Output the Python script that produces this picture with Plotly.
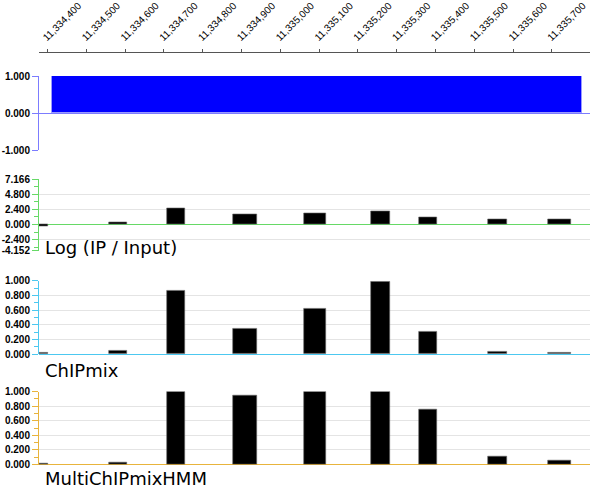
import plotly
from plotly.graph_objs import Bar, Figure, Layout

#genomic window shown on the top ruler
view_start = 11334378
view_end = 11335798
ruler_ticks = list(range(11334400, 11335800, 100))

#enriched region called by the HMM (top track)
region_start = [11334411]
region_end = [11335777]
region_value = [1.0]

#probes: start / end in bp
probe_start = [11334378, 11334558, 11334708, 11334877, 11335062, 11335234, 11335358, 11335535, 11335690]
probe_end = [11334402, 11334606, 11334755, 11334939, 11335118, 11335283, 11335404, 11335585, 11335749]

#track values per probe
log_ratio = [-0.25, 0.35, 2.5, 1.55, 1.8, 2.05, 1.2, 0.9, 0.75]
chipmix = [0.015, 0.05, 0.86, 0.34, 0.62, 0.98, 0.30, 0.03, 0.02]
multichipmix_hmm = [0.01, 0.03, 1.0, 0.95, 1.0, 1.0, 0.76, 0.11, 0.06]

#y ticks of each track
ticks_region = [-1.0, 0.0, 1.0]
ticks_log = [-4.152, -2.4, 0.0, 2.4, 4.8, 7.166]
ticks_prob = [0.0, 0.2, 0.4, 0.6, 0.8, 1.0]

W, H = 600, 490
X0, X1 = 39, 590


def py(px):
    #pixel row -> paper fraction
    return 1 - px / H


def centers(starts, ends):
    return [(s + e) / 2 for s, e in zip(starts, ends)]


def widths(starts, ends):
    return [e - s for s, e in zip(starts, ends)]


def fmt(v):
    return '%.3f' % v


def yaxis(top, bottom, rng, ticks, color, minor=None):
    ax = dict(
        domain=[py(bottom), py(top)], range=rng,
        tickvals=ticks, ticktext=[fmt(t) for t in ticks],
        showline=True, linecolor=color, linewidth=1,
        ticks='outside', ticklen=6, tickcolor=color,
        showgrid=True, gridcolor='#e4e4e4', gridwidth=1,
        zeroline=True, zerolinecolor=color, zerolinewidth=1,
        tickfont=dict(family='Liberation Sans, Arial', size=10, color='black', weight='bold'),
        automargin=False, fixedrange=True,
    )
    if minor is not None:
        ax['minor'] = dict(tickvals=minor, ticklen=4, tickcolor=color, ticks='outside', showgrid=False)
    return ax


xc = centers(probe_start, probe_end)
xw = widths(probe_start, probe_end)

bar_line = dict(color='#666666', width=0.6)

traces = [
    Bar(x=centers(region_start, region_end), y=region_value, width=widths(region_start, region_end),
        marker=dict(color='#0000ff', line=dict(color='#9a9aff', width=1)), xaxis='x', yaxis='y'),
    Bar(x=xc, y=log_ratio, width=xw, marker=dict(color='black', line=bar_line), xaxis='x2', yaxis='y2'),
    Bar(x=xc, y=chipmix, width=xw, marker=dict(color='black', line=bar_line), xaxis='x3', yaxis='y3'),
    Bar(x=xc, y=multichipmix_hmm, width=xw, marker=dict(color='black', line=bar_line), xaxis='x4', yaxis='y4'),
]

hidden_x = dict(domain=[X0 / W, X1 / W], range=[view_start, view_end], visible=False,
                automargin=False, fixedrange=True)

layout = Layout(
    width=W, height=H,
    margin=dict(l=0, r=0, t=0, b=0, autoexpand=False),
    paper_bgcolor='white', plot_bgcolor='white',
    showlegend=False, bargap=0,
    #top ruler
    xaxis=dict(
        domain=[X0 / W, X1 / W], range=[view_start, view_end],
        anchor='free', position=py(52), side='top',
        showline=True, linecolor='#555555', linewidth=1,
        ticks='outside', ticklen=3, tickcolor='#555555',
        tickvals=ruler_ticks, ticktext=['{:,}'.format(t) for t in ruler_ticks],
        tickangle=-45, showgrid=False, zeroline=False,
        ticklabelstandoff=2, ticklabelshift=-4,
        tickfont=dict(family='Liberation Sans, Arial', size=10, color='black'),
        automargin=False, fixedrange=True,
    ),
    xaxis2=dict(hidden_x, anchor='y2'),
    xaxis3=dict(hidden_x, anchor='y3'),
    xaxis4=dict(hidden_x, anchor='y4'),
    yaxis=yaxis(76, 150, [-1, 1], ticks_region, '#7c7cff'),
    yaxis2=yaxis(179.3, 250.7, [-4.152, 7.166], ticks_log, '#66d966',
                 minor=[-3.6, -1.2, 1.2, 3.6, 6.0]),
    yaxis3=yaxis(280.7, 354, [0, 1], ticks_prob, '#4cc8f0',
                 minor=[0.1, 0.3, 0.5, 0.7, 0.9]),
    yaxis4=yaxis(391.5, 464.5, [0, 1], ticks_prob, '#e8b43c',
                 minor=[0.1, 0.3, 0.5, 0.7, 0.9]),
    annotations=[
        dict(text=t, x=43 / W, y=py(yc), xref='paper', yref='paper', xanchor='left', yanchor='middle',
             showarrow=False, font=dict(family='DejaVu Sans', size=18, color='black'))
        for t, yc in [('Log (IP / Input)', 247), ('ChIPmix', 370), ('MultiChIPmixHMM', 478)]
    ],
)

fig = Figure(data=traces, layout=layout)
#the page's default 8px body margin would push the 600x490 figure out of the window
fig.write_html("out.html", config={'displayModeBar': False},
               post_script="document.body.style.margin = '0';")
